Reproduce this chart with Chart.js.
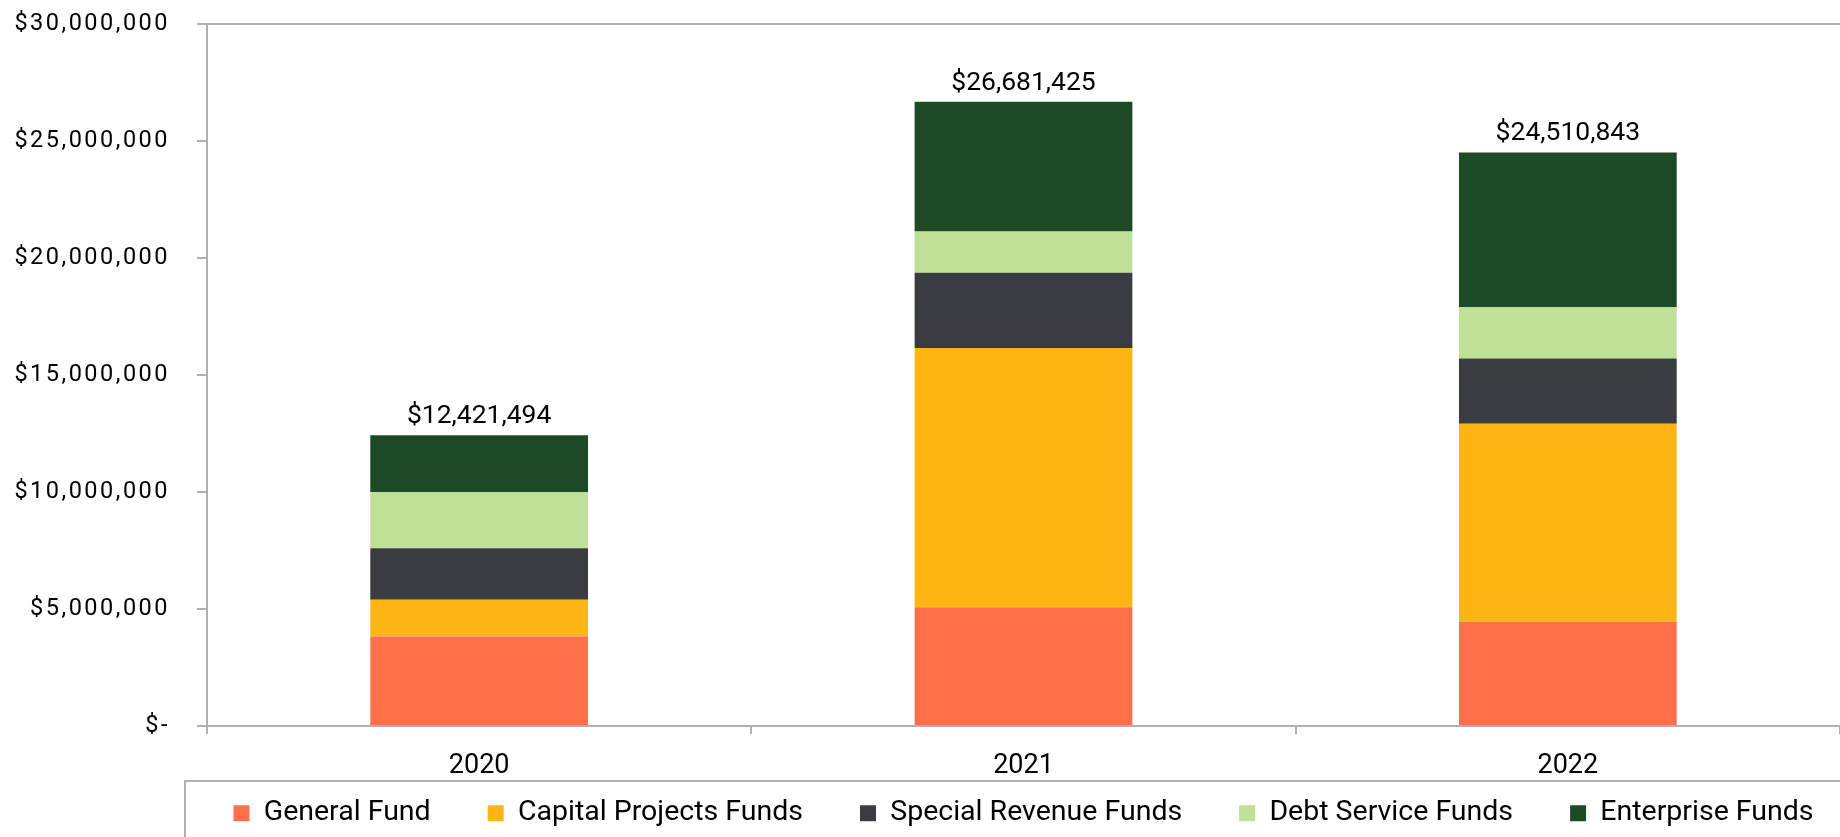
<!DOCTYPE html>
<html>
<head>
<meta charset="utf-8">
<title>Funds by Year</title>
<script src="https://cdn.jsdelivr.net/npm/chart.js@4.4.1/dist/chart.umd.min.js"></script>
<style>
  html, body { margin: 0; padding: 0; background: #fff; }
  canvas { display: block; }
</style>
</head>
<body>
<canvas id="myChart" width="1840" height="837"></canvas>
<script>
// Data
const years = ['2020', '2021', '2022'];
const generalFund = [3830000, 5080000, 4450000];
const capitalProjects = [1560000, 11070000, 8470000];
const specialRevenue = [2210000, 3220000, 2780000];
const debtService = [2390000, 1760000, 2190000];
const enterpriseFunds = [2431494, 5551425, 6620843];
const yTicks = [0, 5000000, 10000000, 15000000, 20000000, 25000000, 30000000];

const axisGrey = '#b0b0b0';
const money = (v) => (v === 0 ? '$-' : '$' + v.toLocaleString('en-US'));

// Totals shown above each stack
const totalLabels = {
  id: 'totalLabels',
  afterDatasetsDraw(chart) {
    const ctx = chart.ctx;
    const last = chart.getDatasetMeta(chart.data.datasets.length - 1);
    ctx.save();
    ctx.font = '26.5px Roboto';
    ctx.fillStyle = '#000';
    ctx.textAlign = 'center';
    ctx.textBaseline = 'alphabetic';
    last.data.forEach((bar, i) => {
      const total = chart.data.datasets.reduce((s, ds) => s + ds.data[i], 0);
      ctx.fillText(money(total), bar.x, bar.y - 12);
    });
    ctx.restore();
  },
};

// Spaced y tick labels, legend centred over the plot, legend frame
const layoutTweaks = {
  id: 'layoutTweaks',
  afterLayout(chart) {
    const area = chart.chartArea;
    const legend = chart.legend;
    chart._legendFrameTop = legend.top;
    // wider box so the single row never wraps, same centre as the plot
    legend.left = area.left - 400;
    legend.right = area.right + 400;
    legend.top = legend.bottom - 95;
    const yScale = chart.scales.y;
    if (!yScale._spaced) {
      const orig = yScale.drawLabels;
      yScale.drawLabels = function (ca) {
        this.ctx.save();
        this.ctx.letterSpacing = '2.5px';
        orig.call(this, ca);
        this.ctx.restore();
      };
      yScale._spaced = true;
    }
  },
  afterDraw(chart) {
    const ctx = chart.ctx;
    const area = chart.chartArea;
    ctx.save();
    ctx.strokeStyle = axisGrey;
    ctx.lineWidth = 2;
    ctx.strokeRect(area.left - 22, chart._legendFrameTop, chart.width, chart.height);
    ctx.restore();
  },
};

const ctx = document.getElementById('myChart').getContext('2d');

const fundsChart = new Chart(ctx, {
  type: 'bar',
  data: {
    labels: years,
    datasets: [
      { label: 'General Fund', data: generalFund, backgroundColor: '#FF6F4A' },
      { label: 'Capital Projects Funds', data: capitalProjects, backgroundColor: '#FDB614' },
      { label: 'Special Revenue Funds', data: specialRevenue, backgroundColor: '#393D41' },
      { label: 'Debt Service Funds', data: debtService, backgroundColor: '#BEE097' },
      { label: 'Enterprise Funds', data: enterpriseFunds, backgroundColor: '#1C4A24' },
    ],
  },
  options: {
    responsive: false,
    animation: false,
    datasets: {
      bar: { borderWidth: 0, categoryPercentage: 1, barPercentage: 0.4 },
    },
    layout: { padding: { top: 24, right: 0, bottom: 0, left: 0 } },
    scales: {
      x: {
        stacked: true,
        grid: {
          offset: true,
          drawOnChartArea: false,
          tickLength: 8,
          tickColor: axisGrey,
          lineWidth: 2,
        },
        border: { color: axisGrey, width: 2 },
        ticks: {
          color: '#000',
          font: { family: 'Roboto', size: 27 },
          padding: 16,
          maxRotation: 0,
        },
        afterFit(scale) {
          scale.height = 55;
        },
      },
      y: {
        stacked: true,
        min: 0,
        max: 30000000,
        afterBuildTicks(scale) {
          scale.ticks = yTicks.map((v) => ({ value: v }));
        },
        grid: {
          color: (c) => (c.tick && c.tick.value === 30000000 ? axisGrey : 'rgba(0,0,0,0)'),
          tickColor: axisGrey,
          tickLength: 10,
          lineWidth: 2,
        },
        border: { color: axisGrey, width: 2 },
        ticks: {
          color: '#000',
          font: { family: 'Roboto', size: 23.5 },
          padding: 27,
          callback: (v) => money(v),
        },
        afterFit(scale) {
          scale.width = 207;
          scale.paddingTop = 0;
          scale.paddingBottom = 0;
        },
      },
    },
    plugins: {
      title: { display: false },
      tooltip: { enabled: false },
      legend: {
        position: 'bottom',
        align: 'center',
        maxHeight: 56,
        labels: {
          color: '#000',
          font: { family: 'Roboto', size: 28.5 },
          boxWidth: 16,
          boxHeight: 16,
          padding: 57,
        },
      },
    },
  },
  plugins: [totalLabels, layoutTweaks],
});
</script>
</body>
</html>
